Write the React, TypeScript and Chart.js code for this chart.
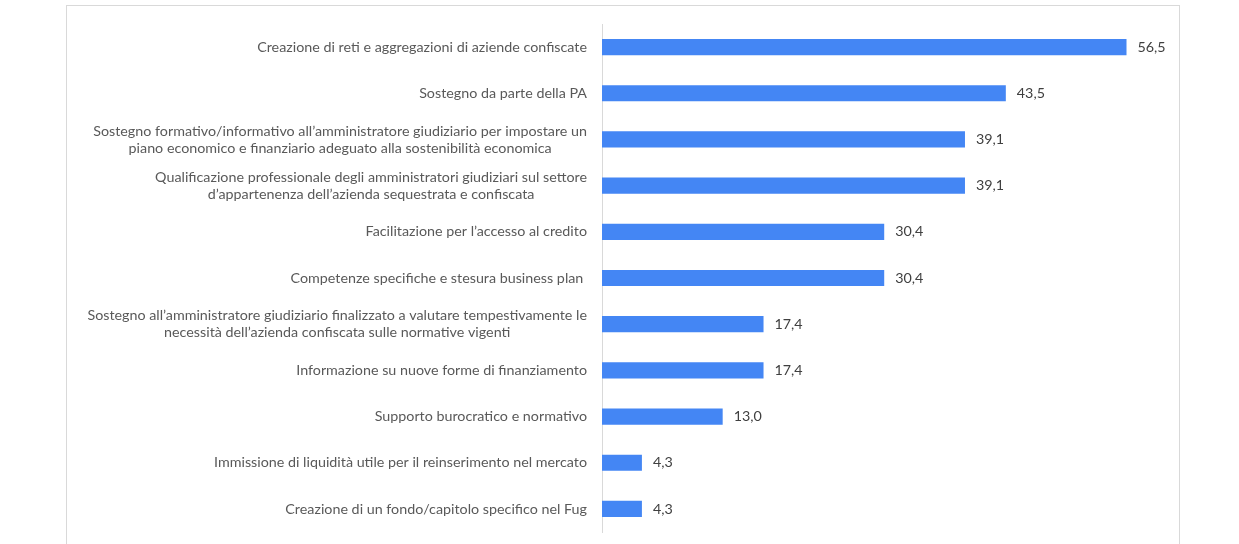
import React, { useEffect, useRef } from "react";
import { Chart, registerables } from "chart.js";

Chart.register(...registerables);

const categories: string[][] = [
  ["Creazione di reti e aggregazioni di aziende confiscate"],
  ["Sostegno da parte della PA"],
  [
    "Sostegno formativo/informativo all’amministratore giudiziario per impostare un",
    "piano economico e finanziario adeguato alla sostenibilità economica",
  ],
  [
    "Qualificazione professionale degli amministratori giudiziari sul settore",
    "d’appartenenza dell’azienda sequestrata e confiscata",
  ],
  ["Facilitazione per l’accesso al credito"],
  ["Competenze specifiche e stesura business plan "],
  [
    "Sostegno all’amministratore giudiziario finalizzato a valutare tempestivamente le",
    "necessità dell’azienda confiscata sulle normative vigenti",
  ],
  ["Informazione su nuove forme di finanziamento"],
  ["Supporto burocratico e normativo"],
  ["Immissione di liquidità utile per il reinserimento nel mercato"],
  ["Creazione di un fondo/capitolo specifico nel Fug"],
];

const values: number[] = [56.5, 43.5, 39.1, 39.1, 30.4, 30.4, 17.4, 17.4, 13.0, 4.3, 4.3];

const FONT = "Lato, 'Open Sans', sans-serif";

const labelPlugin = {
  id: "customLabels",
  afterDraw(chart: any) {
    const ctx = chart.ctx;
    const yScale = chart.scales.y;
    const area = chart.chartArea;
    ctx.save();
    ctx.font = `14.3px ${FONT}`;
    ctx.fillStyle = "#595959";
    ctx.textBaseline = "middle";
    ctx.textAlign = "center";
    const right = area.left - 15;
    const lh = 17;
    categories.forEach((lines, i) => {
      const y = yScale.getPixelForValue(i);
      const maxW = Math.max(...lines.map((l) => ctx.measureText(l).width));
      const cx = right - maxW / 2;
      const startY = y - ((lines.length - 1) * lh) / 2;
      lines.forEach((l, j) => ctx.fillText(l, cx, startY + j * lh));
    });
    // value labels
    ctx.fillStyle = "#404040";
    ctx.textAlign = "left";
    const meta = chart.getDatasetMeta(0);
    meta.data.forEach((bar: any, i: number) => {
      const txt = values[i].toFixed(1).replace(".", ",");
      ctx.fillText(txt, bar.x + 11, bar.y);
    });
    ctx.restore();
  },
};

export default function App() {
  const ref = useRef<HTMLCanvasElement | null>(null);
  useEffect(() => {
    if (!ref.current) return;
    const chart = new Chart(ref.current, {
      type: "bar",
      data: {
        labels: categories.map((c) => c.join(" ")),
        datasets: [
          {
            data: values,
            backgroundColor: "#4486f4",
            borderWidth: 0,
            categoryPercentage: 1,
            barPercentage: 0.35,
          },
        ],
      },
      options: {
        indexAxis: "y",
        animation: false,
        responsive: false,
        maintainAspectRatio: false,
        layout: { padding: { top: 18, bottom: 19, right: 20, left: 0 } },
        plugins: { legend: { display: false }, tooltip: { enabled: false } },
        scales: {
          x: { display: false, min: 0, max: 60 },
          y: {
            afterFit: (scale: any) => {
              scale.width = 535;
            },
            ticks: { display: false },
            grid: { display: false, drawTicks: false },
            border: { display: true, color: "#d9d9d9", width: 1 },
          },
        },
      },
      plugins: [labelPlugin],
    });
    return () => chart.destroy();
  }, []);
  return (
    <div
      style={{
        position: "absolute",
        left: 66,
        top: 5,
        width: 1112,
        height: 545,
        border: "1px solid #d9d9d9",
        background: "#fff",
      }}
    >
      <canvas ref={ref} width={1112} height={545} style={{ display: "block" }} />
    </div>
  );
}
